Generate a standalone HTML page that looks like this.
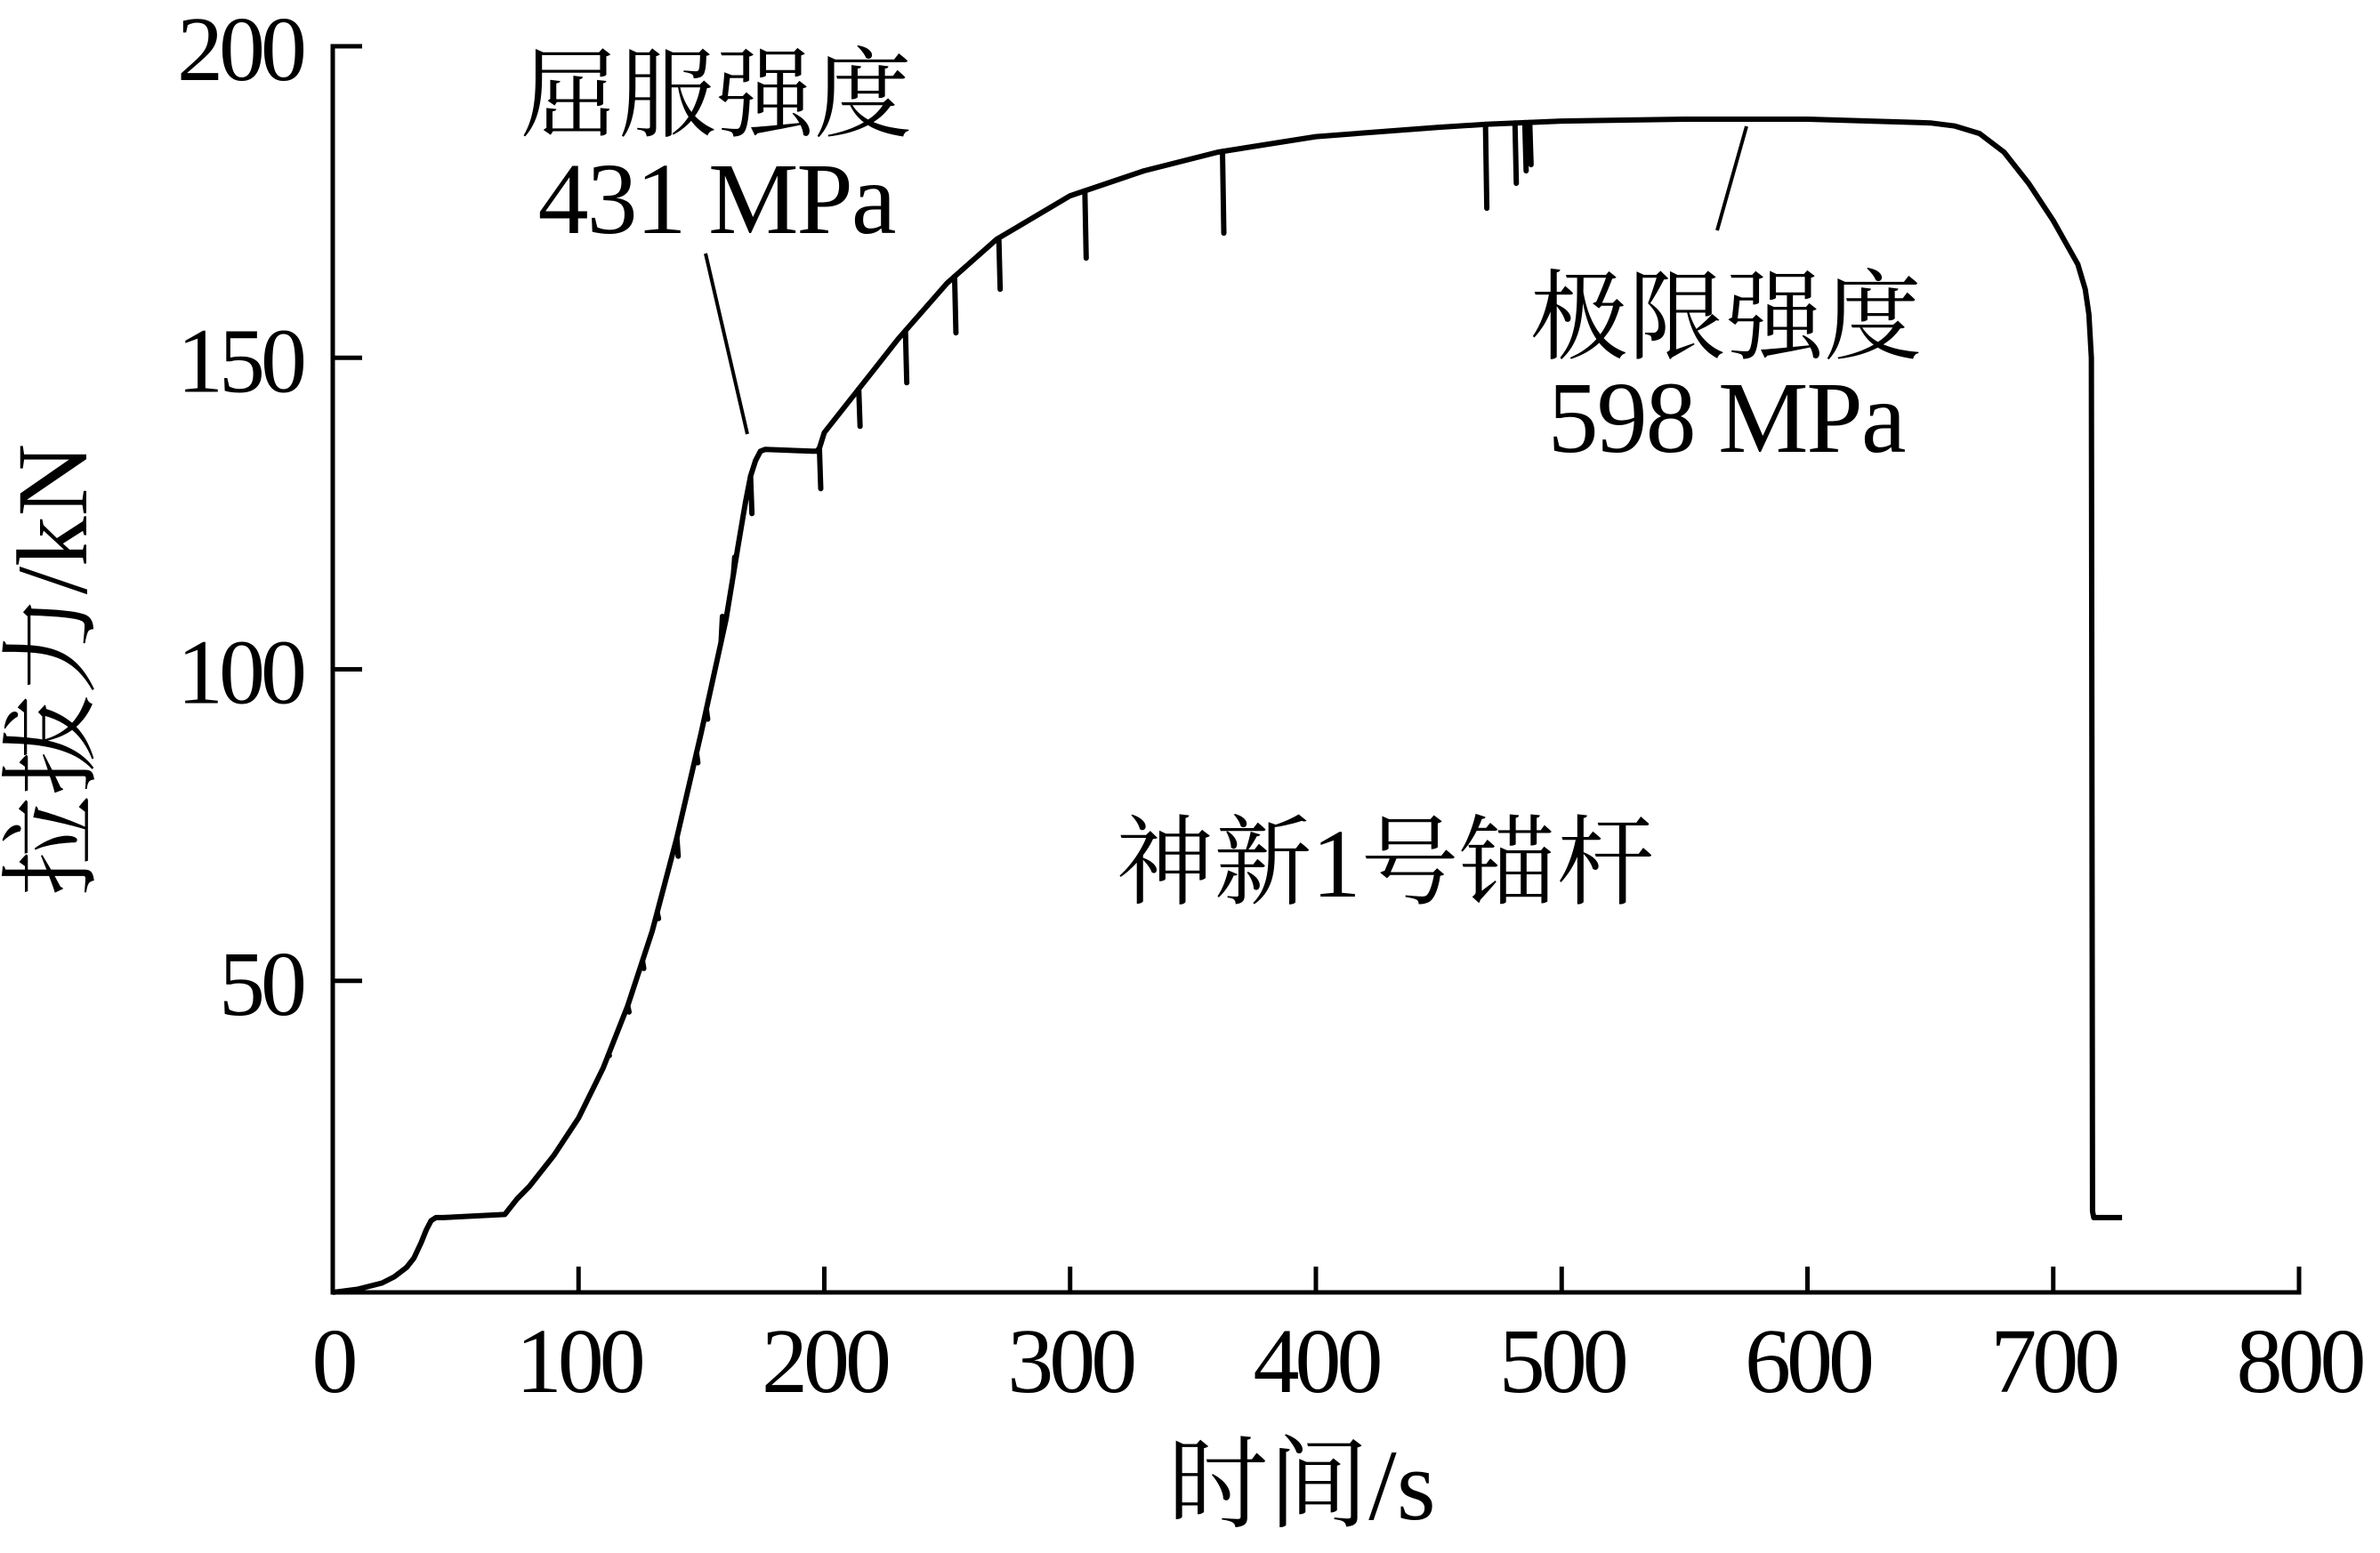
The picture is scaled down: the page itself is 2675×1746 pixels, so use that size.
<!DOCTYPE html>
<html><head><meta charset="utf-8">
<style>
html,body{margin:0;padding:0;background:#fff;}
svg{display:block;}
text{font-family:"Liberation Serif","Noto Serif CJK SC",serif;fill:#000;}
</style></head>
<body>
<svg id="chart" width="2675" height="1746" viewBox="0 0 2675 1746" xmlns="http://www.w3.org/2000/svg">
<g id="axes"></g>
<g id="series"></g>
<g>
<text x="805" y="145" font-size="110" text-anchor="middle">屈服强度</text>
<text x="805" y="262" font-size="114" text-anchor="middle" letter-spacing="-2">431 MPa</text>
<line x1="793" y1="285" x2="840" y2="488" stroke="#000" stroke-width="4"/>
<text x="1940" y="395" font-size="110" text-anchor="middle">极限强度</text>
<text x="1940" y="508" font-size="114" text-anchor="middle" letter-spacing="-2">598 MPa</text>
<line x1="1963" y1="142" x2="1930" y2="259" stroke="#000" stroke-width="4"/>
<text x="1557" y="1008" font-size="110" text-anchor="middle">神新1号锚杆</text>
<text x="1463" y="1708" font-size="113" text-anchor="middle">时间/s</text>
<text transform="translate(97,753) rotate(-90)" font-size="113" text-anchor="middle">拉拔力/kN</text>
</g>
</svg>
<script>
const xTicks = [0,100,200,300,400,500,600,700,800];
const yTicks = [50,100,150,200];
const timeS = [0,10,20,25,30,33,36,38,40,42,45,70,72,75,80,90,100,110,120,130,140,150,160,165,168,170,172,174,176,195,197,198,200,210,220,230,250,270,300,330,360,400,450,470,500,550,600,650,660,670,680,690,700,705,710,713,714.5,715.5,716,716.5,728];
const forceKN = [0,0.5,1.5,2.5,4,5.5,8,10,11.5,12,12,12.5,13.5,15,17,22,28,36,46,58,73,90,108,120,127,131,133.5,135,135.3,135,135,135.5,138,143,148,153,162,169,176,180,183,185.5,187,187.5,188,188.3,188.3,187.7,187.2,186,183,178,172,168.5,165,161,157,150,13,12,12];
const dipTime = [112,120,126,132,140,148,152,158,163,170,198,214,233,253,271,306,362,469,481,485,487];
const dipMin = [38,45,52,60,70,85,92,108.5,118,125,129,139,146,154,161,166,170,174,178,180,181];

const X0=374, Y0=1453, XPX=2.7625, YPX=7.005;
function sx(t){return X0+t*XPX;}
function sy(v){return Y0-v*YPX;}
function interp(t){
  for(let i=1;i<timeS.length;i++){ if(t<=timeS[i]){const a=timeS[i-1],b=timeS[i];const f=(t-a)/(b-a||1);return forceKN[i-1]+f*(forceKN[i]-forceKN[i-1]);} }
  return forceKN[forceKN.length-1];
}
const NS="http://www.w3.org/2000/svg";
const axes=document.getElementById('axes');
const series=document.getElementById('series');
function mk(tag,attrs,parent){const e=document.createElementNS(NS,tag);for(const k in attrs)e.setAttribute(k,attrs[k]);parent.appendChild(e);return e;}

const frame=mk('path',{d:`M${sx(0)+33} ${sy(200)} H${sx(0)} V${Y0} H${sx(800)} V${Y0-29}`,fill:'none',stroke:'#000','stroke-width':5},axes);


xTicks.forEach(t=>{
  if(t>0&&t<800){const l=mk('line',{x1:sx(t),x2:sx(t),y1:Y0,y2:Y0-29,stroke:'#000','stroke-width':5},axes);
  
  }
  const tx=mk('text',{x:sx(t),y:1565,'font-size':104,'text-anchor':'middle','letter-spacing':-5},axes);
  tx.textContent=t;
  
  
});
yTicks.forEach(v=>{
  if(v<200){const l=mk('line',{x1:X0,x2:X0+33,y1:sy(v),y2:sy(v),stroke:'#000','stroke-width':5},axes);
  
  }
  const tx=mk('text',{x:340,y:sy(v)+38,'font-size':104,'text-anchor':'end','letter-spacing':-5},axes);
  tx.textContent=v;
  
  
});
let d='';
timeS.forEach((t,i)=>{d+=(i?'L':'M')+sx(t).toFixed(1)+' '+sy(forceKN[i]).toFixed(1)+' ';});
const curve=mk('path',{d:d,fill:'none',stroke:'#000','stroke-width':6,'stroke-linejoin':'round'},series);


dipTime.forEach((t,i)=>{
  const l=mk('line',{x1:sx(t),x2:sx(t)+1.5,y1:sy(interp(t)),y2:sy(dipMin[i]),stroke:'#000','stroke-width':6,'stroke-linecap':'round'},series);
  
  
});
</script>
</body></html>
